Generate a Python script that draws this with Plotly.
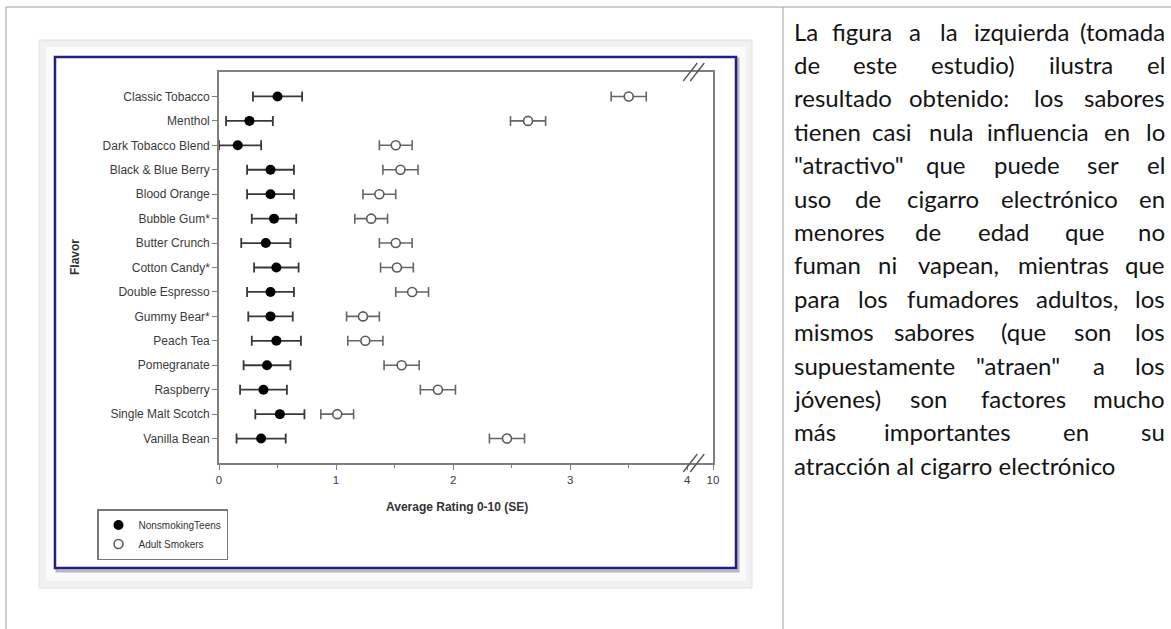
import plotly.graph_objects as go

# ---------------- data ----------------
flavors = ["Classic Tobacco", "Menthol", "Dark Tobacco Blend", "Black & Blue Berry",
           "Blood Orange", "Bubble Gum*", "Butter Crunch", "Cotton Candy*",
           "Double Espresso", "Gummy Bear*", "Peach Tea", "Pomegranate",
           "Raspberry", "Single Malt Scotch", "Vanilla Bean"]
teens_mean = [0.50, 0.26, 0.16, 0.44, 0.44, 0.47, 0.40, 0.49, 0.44, 0.44, 0.49, 0.41, 0.38, 0.52, 0.36]
teens_se = [0.21, 0.20, 0.20, 0.20, 0.20, 0.19, 0.21, 0.19, 0.20, 0.19, 0.21, 0.20, 0.20, 0.21, 0.21]
adult_mean = [3.50, 2.64, 1.51, 1.55, 1.37, 1.30, 1.51, 1.52, 1.65, 1.23, 1.25, 1.56, 1.87, 1.01, 2.46]
adult_se = [0.15, 0.15, 0.14, 0.15, 0.14, 0.14, 0.14, 0.14, 0.14, 0.14, 0.15, 0.15, 0.15, 0.14, 0.15]

series_names = ["NonsmokingTeens", "Adult Smokers"]
x_tick_vals = [0, 1, 2, 3, 4, 4.22]      # broken axis: last position stands for 10
x_tick_text = ["0", "1", "2", "3", "4", "10"]
x_minor_vals = [0.5, 1.5, 2.5, 3.5]
x_break_at = 4.06
x_title = "Average Rating 0-10 (SE)"
y_title = "Flavor"

body_lines = [
    "La figura a la izquierda (tomada",
    "de este estudio) ilustra el",
    "resultado obtenido: los sabores",
    "tienen casi nula influencia en lo",
    "\"atractivo\" que puede ser el",
    "uso de cigarro electrónico en",
    "menores de edad que no",
    "fuman ni vapean, mientras que",
    "para los fumadores adultos, los",
    "mismos sabores (que son los",
    "supuestamente \"atraen\" a los",
    "jóvenes) son factores mucho",
    "más importantes en su",
    "atracción al cigarro electrónico",
]

# ---------------- layout geometry (pixels) ----------------
W, H = 1171, 629
L, R, T, B = 219, 713, 72, 463


def px(x):
    return (x - L) / (R - L)


def py(y):
    return (B - y) / (B - T)


AX = "#7f7f7f"
LBL = "#3a3a3a"
FONT = "Liberation Sans, Arial, sans-serif"

fig = go.Figure()

teen_minus = [min(s, m) for m, s in zip(teens_mean, teens_se)]
fig.add_trace(go.Scatter(
    x=teens_mean, y=flavors, mode="markers", name=series_names[0],
    marker=dict(symbol="circle", size=10, color="black", line=dict(width=0)),
    error_x=dict(type="data", array=teens_se, arrayminus=teen_minus, symmetric=False,
                 color="#383838", thickness=1.8, width=5),
))
fig.add_trace(go.Scatter(
    x=adult_mean, y=flavors, mode="markers", name=series_names[1],
    marker=dict(symbol="circle", size=9, color="white", line=dict(width=1.6, color="#5a5a5a")),
    error_x=dict(type="data", array=adult_se, color="#666666", thickness=1.6, width=5),
))

shapes = []
# page frame lines
for (x0, y0, x1, y1) in [(6, 7, 1171, 7), (6, 7, 6, 629), (783, 7, 783, 629)]:
    shapes.append(dict(type="line", xref="paper", yref="paper", x0=px(x0), y0=py(y0),
                       x1=px(x1), y1=py(y1), line=dict(color="#a0a0a0", width=1), layer="below"))
# light gray picture panel
shapes.append(dict(type="rect", xref="paper", yref="paper", x0=px(39), y0=py(40), x1=px(752), y1=py(588),
                   fillcolor="#f1f1f1", line=dict(color="#e2e2e2", width=1), layer="below"))
shapes.append(dict(type="rect", xref="paper", yref="paper", x0=px(46), y0=py(47), x1=px(746), y1=py(581),
                   fillcolor="#fbfbfb", line=dict(width=0), layer="below"))
# navy frame with soft shadow
shapes.append(dict(type="rect", xref="paper", yref="paper", x0=px(57), y0=py(59), x1=px(738), y1=py(571),
                   fillcolor="rgba(0,0,0,0)", line=dict(color="rgba(60,60,90,0.35)", width=3), layer="below"))
shapes.append(dict(type="rect", xref="paper", yref="paper", x0=px(55), y0=py(57), x1=px(736), y1=py(568),
                   fillcolor="white", line=dict(color="#1f1f86", width=2.5), layer="below"))
# axis break marks (top and bottom)
for yanchor in (0, 1):
    for dx in (-4, 3):
        shapes.append(dict(type="line", xref="x", yref="paper", xsizemode="pixel", ysizemode="pixel",
                           xanchor=x_break_at, yanchor=yanchor, x0=dx - 7, x1=dx + 7, y0=-9, y1=9,
                           line=dict(color="#555555", width=1.3), layer="above"))

annotations = []
annotations.append(dict(text="<b>%s</b>" % x_title, xref="paper", yref="paper", x=px(457), y=py(507),
                        showarrow=False, xanchor="center", yanchor="middle",
                        font=dict(family=FONT, size=12, color="#333333")))
annotations.append(dict(text="<b>%s</b>" % y_title, xref="paper", yref="paper", x=px(75), y=py(257),
                        showarrow=False, textangle=-90, xanchor="center", yanchor="middle",
                        font=dict(family=FONT, size=12, color="#333333")))

# justified paragraph on the right
CW = {'a': .50, 'b': .56, 'c': .46, 'd': .56, 'e': .52, 'f': .32, 'g': .50, 'h': .56, 'i': .24,
      'j': .24, 'k': .50, 'l': .24, 'm': .84, 'n': .56, 'o': .56, 'p': .56, 'q': .56, 'r': .37,
      's': .43, 't': .36, 'u': .56, 'v': .51, 'w': .78, 'x': .49, 'y': .51, 'z': .45,
      'á': .50, 'é': .52, 'í': .24, 'ó': .56, 'ú': .56, 'L': .52, '(': .30, ')': .30,
      ':': .24, ',': .22, '"': .40, '.': .22}
TS = 24
K = 0.93
TXT_L, TXT_R = 792, 1167
line0, lstep = 31, 33.4
TFONT = dict(family="Lato", size=TS, color="#141414")


def word_w(wd):
    return sum(CW.get(c, 0.55) for c in wd) * TS * K


for i, line in enumerate(body_lines):
    yy = py(line0 + i * lstep)
    words = line.split(" ")
    if i == len(body_lines) - 1 or len(words) == 1:
        annotations.append(dict(text=line, xref="paper", yref="paper", x=px(TXT_L), y=yy,
                                showarrow=False, xanchor="left", yanchor="middle", font=TFONT))
        continue
    ws = [word_w(w) for w in words]
    gap = (TXT_R - TXT_L - sum(ws)) / (len(words) - 1)
    xcur = TXT_L
    n = len(words)
    for j, (w, wl) in enumerate(zip(words, ws)):
        if j == 0:
            xa, xx = "left", TXT_L
        elif j == n - 1:
            xa, xx = "right", TXT_R
        else:
            xa, xx = "center", xcur + wl / 2
        annotations.append(dict(text=w, xref="paper", yref="paper", x=px(xx), y=yy,
                                showarrow=False, xanchor=xa, yanchor="middle", font=TFONT))
        xcur += wl + gap

fig.update_layout(
    template="none",
    width=W, height=H, autosize=False,
    margin=dict(l=L, r=W - R, t=T, b=H - B, pad=0),
    paper_bgcolor="white", plot_bgcolor="rgba(0,0,0,0)",
    showlegend=True,
    legend=dict(x=px(97), y=py(509), xanchor="left", yanchor="top",
                bgcolor="white", bordercolor="#777777", borderwidth=1.5,
                font=dict(family=FONT, size=10, color="#333333"),
                itemwidth=30, entrywidth=108, entrywidthmode="pixels", tracegroupgap=0),
    xaxis=dict(range=[0, x_tick_vals[-1]], tickvals=x_tick_vals, ticktext=x_tick_text,
               ticks="outside", ticklen=5, tickwidth=1, tickcolor=AX, color=LBL,
               minor=dict(tickvals=x_minor_vals, ticks="outside", ticklen=3, tickcolor=AX),
               showline=True, linecolor=AX, linewidth=1.6, mirror=True,
               showgrid=False, zeroline=False, automargin=False,
               tickfont=dict(family=FONT, size=11.5, color=LBL)),
    yaxis=dict(type="category", categoryorder="array", categoryarray=flavors,
               range=[len(flavors), -1], color=LBL,
               ticks="outside", ticklen=5, tickwidth=1, tickcolor=AX,
               showline=True, linecolor=AX, linewidth=1.6, mirror=True,
               showgrid=False, zeroline=False, automargin=False,
               tickfont=dict(family=FONT, size=12, color=LBL)),
    shapes=shapes,
    annotations=annotations,
    font=dict(family=FONT),
)

fig.write_html("out.html", config={"displayModeBar": False},
               post_script="document.body.style.margin='0px';document.body.style.overflow='hidden';")
